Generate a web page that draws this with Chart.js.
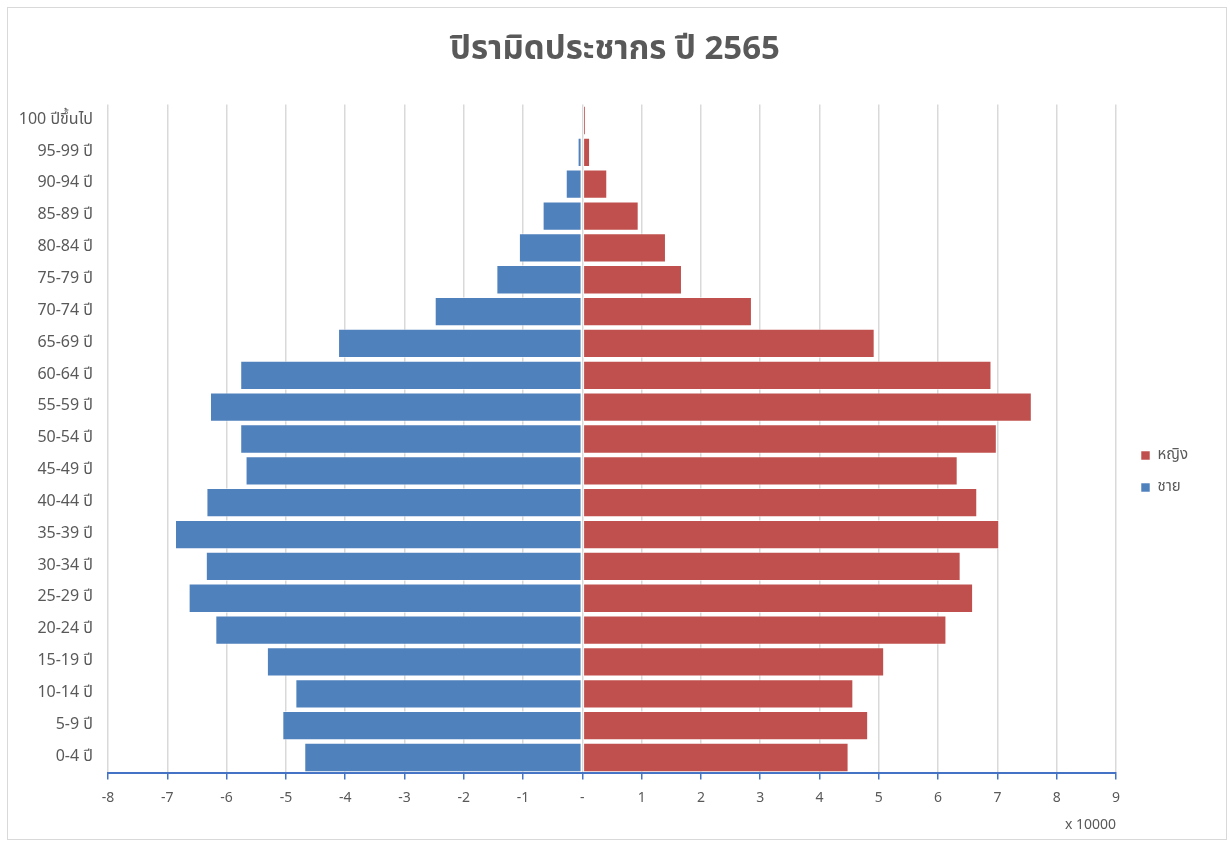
<!DOCTYPE html>
<html>
<head>
<meta charset="utf-8">
<script src="https://cdn.jsdelivr.net/npm/chart.js@4.4.1/dist/chart.umd.min.js"></script>
<style>
  html, body { margin: 0; padding: 0; background: #fff; }
  #wrap { position: absolute; left: 0; top: 0; width: 1230px; height: 845px; }
  #frame { position: absolute; left: 7px; top: 7px; width: 1220px; height: 833px; border: 1px solid #d9d9d9; box-sizing: border-box; pointer-events: none; }
</style>
</head>
<body>
<div id="wrap"><canvas id="c" width="1230" height="845"></canvas><div id="frame"></div></div>
<script>
const categories = ['0-4 ปี','5-9 ปี','10-14 ปี','15-19 ปี','20-24 ปี','25-29 ปี','30-34 ปี','35-39 ปี','40-44 ปี','45-49 ปี','50-54 ปี','55-59 ปี','60-64 ปี','65-69 ปี','70-74 ปี','75-79 ปี','80-84 ปี','85-89 ปี','90-94 ปี','95-99 ปี','100 ปีขึ้นไป'];
// values in units of 10,000 persons
const male = [-4.69,-5.06,-4.84,-5.32,-6.19,-6.64,-6.35,-6.87,-6.34,-5.68,-5.77,-6.28,-5.77,-4.12,-2.49,-1.45,-1.07,-0.67,-0.28,-0.08,-0.03];
const female = [4.49,4.82,4.57,5.09,6.14,6.59,6.38,7.03,6.66,6.33,6.99,7.58,6.90,4.93,2.86,1.68,1.41,0.95,0.42,0.13,0.06];
const xTicks = [-8,-7,-6,-5,-4,-3,-2,-1,0,1,2,3,4,5,6,7,8,9];
const titleText = 'ปิรามิดประชากร ปี 2565';
const femaleLabel = 'หญิง';
const maleLabel = 'ชาย';
const unitLabel = 'x 10000';

const FONT = "Tahoma, 'Noto Sans Thai', 'Noto Sans', 'DejaVu Sans', sans-serif";
const GRAY = '#595959';

// shifts the legend and title blocks (layout only)
const boxShift = {
  id: 'boxShift',
  afterLayout(chart) {
    const l = chart.legend;
    if (l) { l.top += 46; l.bottom += 46; l.left += 8; l.right += 8; }
    const t = chart.titleBlock;
    if (t) { t.left += 15; t.right += 15; }
  }
};

new Chart(document.getElementById('c'), {
  type: 'bar',
  data: {
    labels: categories,
    datasets: [
      { label: femaleLabel, data: female, backgroundColor: '#c0504d', borderColor: 'rgba(255,255,255,0.55)', borderWidth: 1, borderSkipped: false, barPercentage: 0.92, categoryPercentage: 1 },
      { label: maleLabel, data: male, backgroundColor: '#4f81bd', borderColor: 'rgba(255,255,255,0.55)', borderWidth: 1, borderSkipped: false, barPercentage: 0.92, categoryPercentage: 1 }
    ]
  },
  plugins: [boxShift],
  options: {
    responsive: false,
    animation: false,
    indexAxis: 'y',
    layout: { padding: { left: 10, right: 40, top: 16, bottom: 10 } },
    plugins: {
      title: { display: true, text: titleText, color: GRAY, font: { family: FONT, size: 33, weight: 'bold' }, padding: { top: 17, bottom: 32 } },
      legend: {
        position: 'right',
        labels: { color: GRAY, font: { family: FONT, size: 15 }, boxWidth: 9, boxHeight: 9, padding: 17 }
      },
      tooltip: { enabled: false }
    },
    scales: {
      x: {
        stacked: true,
        min: -8, max: 9,
        afterBuildTicks: (s) => { s.ticks = xTicks.map(v => ({ value: v })); },
        ticks: { color: GRAY, font: { family: FONT, size: 14 }, padding: 11, callback: (v) => v === 0 ? '-' : String(v) },
        grid: { color: '#d9d9d9', lineWidth: 1.5, tickColor: '#4472c4', tickLength: 6 },
        border: { display: true, color: '#4472c4', width: 2 },
        title: { display: true, text: unitLabel, align: 'end', color: GRAY, font: { family: FONT, size: 14 }, padding: { top: 0, bottom: 0 } }
      },
      y: {
        stacked: true,
        reverse: true,
        afterFit: (s) => { s.width = 98; },
        ticks: { color: GRAY, font: { family: FONT, size: 16 }, padding: 7 },
        grid: { display: false },
        border: { display: false }
      }
    }
  }
});
</script>
</body>
</html>
